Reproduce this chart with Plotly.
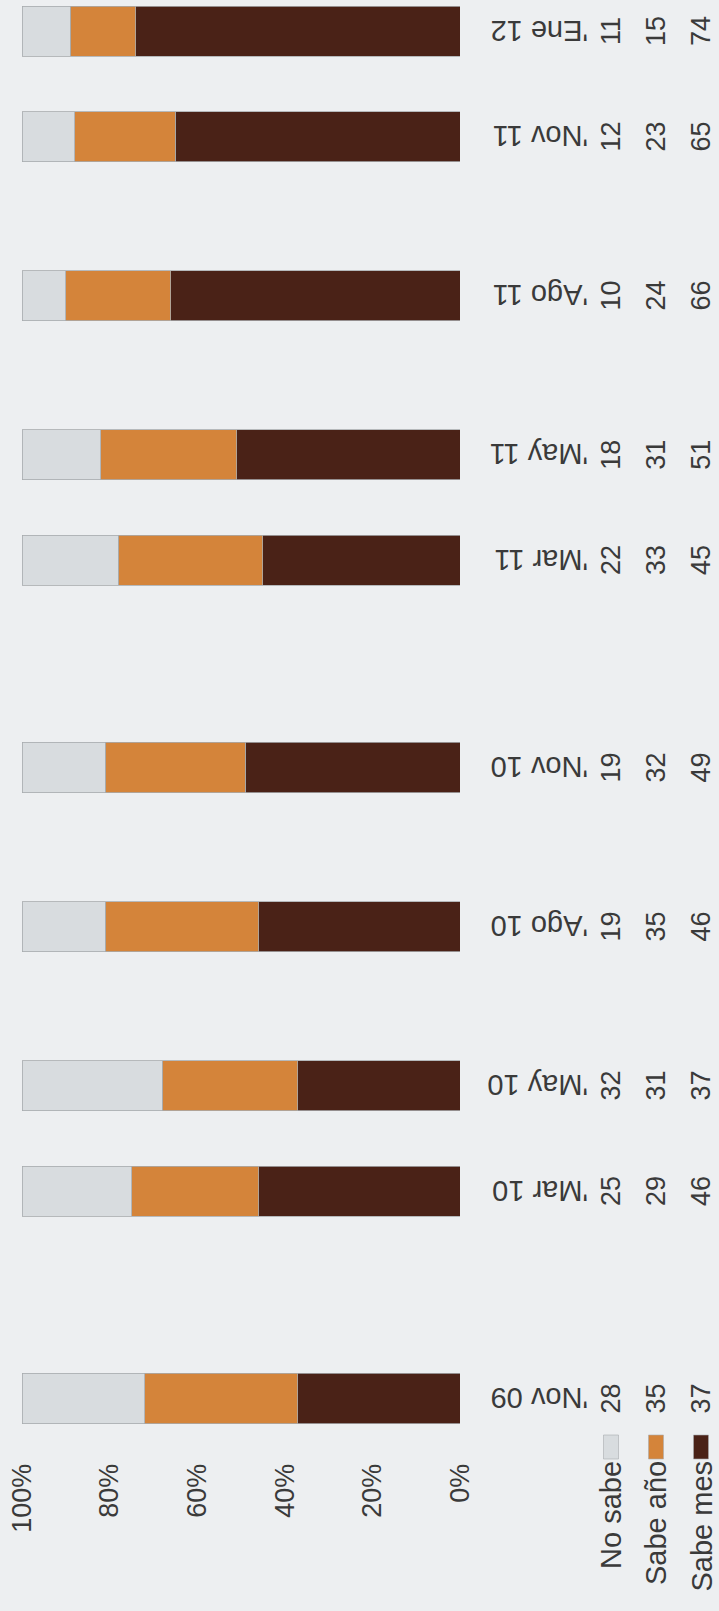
import plotly.graph_objects as go

# Datos (porcentajes por ola de encuesta)
categorias = ["'Nov 09", "'Mar 10", "'May 10", "'Ago 10", "'Nov 10",
              "'Mar 11", "'May 11", "'Ago 11", "'Nov 11", "'Ene 12"]
fechas = ["2009-11-01", "2010-03-01", "2010-05-01", "2010-08-01", "2010-11-01",
          "2011-03-01", "2011-05-01", "2011-08-01", "2011-11-01", "2012-01-01"]
no_sabe = [28, 25, 32, 19, 19, 22, 18, 10, 12, 11]
sabe_anio = [35, 29, 31, 35, 32, 33, 31, 24, 23, 15]
sabe_mes = [37, 46, 37, 46, 49, 45, 51, 66, 65, 74]

series_nombres = ["No sabe", "Sabe año", "Sabe mes"]
ticks_pct = [0, 20, 40, 60, 80, 100]
ticks_txt = ["0%", "20%", "40%", "60%", "80%", "100%"]

COLORS = {
    "bg": "#EDEFF1",
    "no_sabe": "#D8DCDF",
    "sabe_anio": "#D4843A",
    "sabe_mes": "#4A2217",
    "text": "#3A3A3A",
    "edge": "#A8ABAE",
}
FONT = "Liberation Sans, Arial, sans-serif"

BAR_WIDTH = 29 * 24 * 3600 * 1000  # ancho de barra en ms (eje de fechas)

fig = go.Figure()
for nombre, vals, col in [("Sabe mes", sabe_mes, COLORS["sabe_mes"]),
                          ("Sabe año", sabe_anio, COLORS["sabe_anio"]),
                          ("No sabe", no_sabe, COLORS["no_sabe"])]:
    fig.add_trace(go.Bar(
        x=vals, y=fechas, name=nombre, orientation="h",
        width=BAR_WIDTH,
        marker=dict(color=col, line=dict(color=COLORS["edge"], width=0.8)),
        showlegend=False,
    ))

fig.update_layout(
    barmode="stack",
    width=719, height=1611,
    margin=dict(l=22, r=259, t=0, b=171),
    paper_bgcolor=COLORS["bg"],
    plot_bgcolor=COLORS["bg"],
    font=dict(family=FONT, color=COLORS["text"]),
    xaxis=dict(
        range=[100, 0], tickvals=ticks_pct, ticktext=ticks_txt,
        tickangle=-90, tickfont=dict(size=27, color=COLORS["text"]),
        showgrid=False, zeroline=False, showline=False,
        ticks="outside", ticklen=12, tickcolor="rgba(0,0,0,0)",
    ),
    yaxis=dict(
        type="date", range=["2009-10-08", "2012-01-19"],
        showticklabels=False, showgrid=False, zeroline=False, showline=False,
    ),
)

# tabla de datos a la derecha (texto girado como el original escaneado)
plot_w = 719 - 22 - 259
def px_to_paper(px):
    return (px - 22) / plot_w

fila_x = [px_to_paper(611), px_to_paper(656), px_to_paper(701)]
fila_vals = [no_sabe, sabe_anio, sabe_mes]
fila_cols = [COLORS["no_sabe"], COLORS["sabe_anio"], COLORS["sabe_mes"]]

annotations = []
for i, fecha in enumerate(fechas):
    annotations.append(dict(
        x=px_to_paper(590), y=fecha, xref="paper", yref="y",
        text=categorias[i], textangle=180, showarrow=False,
        xanchor="right", yanchor="middle",
        font=dict(size=29, color=COLORS["text"]),
    ))
    for r in range(3):
        annotations.append(dict(
            x=fila_x[r], y=fecha, xref="paper", yref="y",
            text=str(fila_vals[r][i]), textangle=-90, showarrow=False,
            xanchor="center", yanchor="middle",
            font=dict(size=27, color=COLORS["text"]),
        ))

# leyenda de la tabla
plot_h = 1611 - 171
def py_to_paper(py):
    return (plot_h - py) / plot_h

shapes = []
for r in range(3):
    annotations.append(dict(
        x=fila_x[r], y=py_to_paper(1459), xref="paper", yref="paper",
        text=series_nombres[r], textangle=-90, showarrow=False,
        xanchor="center", yanchor="top",
        font=dict(size=29, color=COLORS["text"]),
    ))
    shapes.append(dict(
        type="rect", xref="paper", yref="paper",
        x0=fila_x[r] - 7.5 / plot_w, x1=fila_x[r] + 7.5 / plot_w,
        y0=py_to_paper(1435), y1=py_to_paper(1459),
        fillcolor=fila_cols[r], line=dict(color=COLORS["edge"], width=0.6),
    ))

fig.update_layout(annotations=annotations, shapes=shapes)

fig.write_html(
    "out.html",
    config={"displayModeBar": False},
    post_script="document.body.style.margin='0';"
                "document.body.style.overflow='hidden';"
                "document.documentElement.style.overflow='hidden';",
)
